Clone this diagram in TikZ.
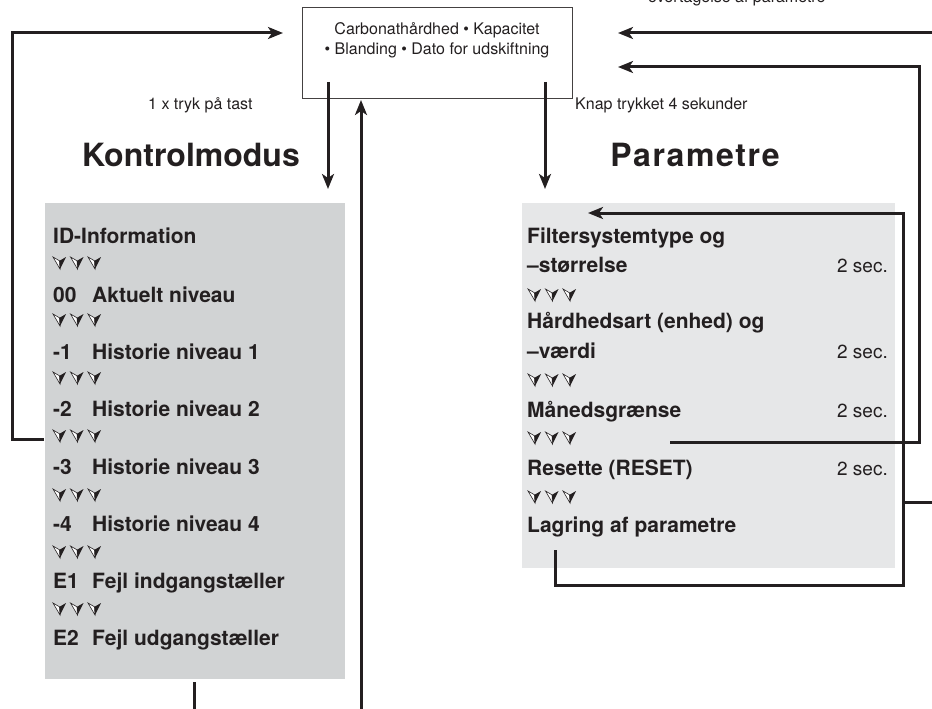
\documentclass[tikz,border=0pt]{standalone}
\usepackage{fontspec}
\setmainfont{TeX Gyre Heros}
\usetikzlibrary{arrows.meta}
\definecolor{ink}{HTML}{231F20}
\definecolor{grayA}{HTML}{D1D3D4}
\definecolor{grayB}{HTML}{E6E7E8}
\tikzset{
  conn/.style={line width=3pt, draw=ink},
  arr/.style={conn, -{Stealth[length=15pt,width=12pt,inset=4pt]}},
  item/.style={anchor=base west, inner sep=0pt, font=\fontsize{21}{25}\selectfont\bfseries, text=ink},
  secs/.style={anchor=base east, inner sep=0pt, font=\fontsize{19}{23}\selectfont, text=ink},
  lab/.style={anchor=base west, inner sep=0pt, font=\fontsize{16}{19}\selectfont, text=ink},
  boxtxt/.style={anchor=base, inner sep=0pt, font=\fontsize{16}{19}\selectfont, text=ink},
  head/.style={anchor=base, inner sep=0pt, font=\fontsize{32}{38}\selectfont\bfseries, text=ink},
  tri/.pic={
    \filldraw[draw=ink, fill=white, line width=0.6pt] (0,0)--(6.5,3.8)--(7,12)--cycle;
    \fill[ink] (6.5,3.8)--(13,0)--(7,12)--cycle;
  },
  tris/.pic={\pic at (0,0) {tri}; \pic at (17.5,0) {tri}; \pic at (35,0) {tri};}
}
\begin{document}
\begin{tikzpicture}[x=1pt,y=-1pt]
\useasboundingbox (0,0) rectangle (932,709);

% panels
\node[fill=grayA, minimum width=300pt, minimum height=476pt, inner sep=0pt, anchor=north west] (kbox) at (45,203) {};
\node[fill=grayB, minimum width=373pt, minimum height=365pt, inner sep=0pt, anchor=north west] (pbox) at (522,203) {};

% top box
\node[draw=ink!85, line width=1pt, minimum width=270pt, minimum height=90pt, inner sep=0pt] (top) at (437,53) {};
\node[boxtxt] (t1) at (437,35) {Carbonathårdhed • Kapacitet};
\node[boxtxt] (t2) at (437,55) {• Blanding • Dato for udskiftning};

% labels
\node[lab] (l1) at (148,110) {1 x tryk på tast};
\node[lab] (l2) at (575,110) {Knap trykket 4 sekunder};
\node[lab] (l3) at (648,3) {overtagelse af parametre};

% headings
\node[head] (h1) at (191,166) {Kontrolmodus};
\node[head] (h2) at (695,166) {\addfontfeatures{LetterSpace=5}Parametre};

% left list
\node[item] (k1) at (53,243) {ID-Information};
\node[item] (k2n) at (53,302) {00};  \node[item] (k2) at (92,302) {Aktuelt niveau};
\node[item] (k3n) at (53,359) {-1};  \node[item] (k3) at (92,359) {Historie niveau 1};
\node[item] (k4n) at (53,416) {-2};  \node[item] (k4) at (92,416) {Historie niveau 2};
\node[item] (k5n) at (53,474) {-3};  \node[item] (k5) at (92,474) {Historie niveau 3};
\node[item] (k6n) at (53,531) {-4};  \node[item] (k6) at (92,531) {Historie niveau 4};
\node[item] (k7n) at (53,588) {E1};  \node[item] (k7) at (92,588) {Fejl indgangstæller};
\node[item] (k8n) at (53,645) {E2};  \node[item] (k8) at (92,645) {Fejl udgangstæller};
\foreach \y in {257,314,372,430,489,546,603} { \pic at (53,\y) {tris}; }

% right list
\node[item] (p1a) at (527,243) {Filtersystemtype og};
\node[item] (p1b) at (527,272) {–størrelse};
\node[secs] (s1) at (888,272) {2 sec.};
\node[item] (p2a) at (527,328) {Hårdhedsart (enhed) og};
\node[item] (p2b) at (527,358) {–værdi};
\node[secs] (s2) at (888,358) {2 sec.};
\node[item] (p3) at (527,417) {Månedsgrænse};
\node[secs] (s3) at (888,417) {2 sec.};
\node[item] (p4) at (527,475) {Resette (RESET)};
\node[secs] (s4) at (888,475) {2 sec.};
\node[item] (p5) at (527,532) {Lagring af parametre};
\foreach \y in {289,374,432,491} { \pic at (528,\y) {tris}; }

% connector coordinates
\coordinate (a1) at (44,439);
\coordinate (a2) at (12,439);
\coordinate (a3) at (12,33);
\coordinate (a4) at (283,33);
\coordinate (b1) at (328,82);
\coordinate (b2) at (328,189);
\coordinate (c1) at (361,709);
\coordinate (c2) at (361,100);
\coordinate (d1) at (545,82);
\coordinate (d2) at (545,189);
\coordinate (e1) at (194,682);
\coordinate (e2) at (194,709);
\coordinate (f1) at (932,33);
\coordinate (f2) at (618,33);
\coordinate (g1) at (670,442);
\coordinate (g2) at (919,442);
\coordinate (g3) at (919,67);
\coordinate (g4) at (618,67);
\coordinate (hh1) at (555,550);
\coordinate (hh2) at (555,585);
\coordinate (hh3) at (903,585);
\coordinate (hh4) at (903,213);
\coordinate (hh5) at (588,213);
\coordinate (i1) at (932,502);
\coordinate (i2) at (903,502);

% connectors
\draw[arr] (a1) -- (a2) -- (a3) -- (a4);
\draw[arr] (b1) -- (b2);
\draw[arr] (c1) -- (c2);
\draw[arr] (d1) -- (d2);
\draw[conn] (e1) -- (e2);
\draw[arr] (f1) -- (f2);
\draw[arr] (g1) -- (g2) -- (g3) -- (g4);
\draw[arr] (hh1) -- (hh2) -- (hh3) -- (hh4) -- (hh5);
\draw[conn] (i1) -- (i2);
\end{tikzpicture}
\end{document}
